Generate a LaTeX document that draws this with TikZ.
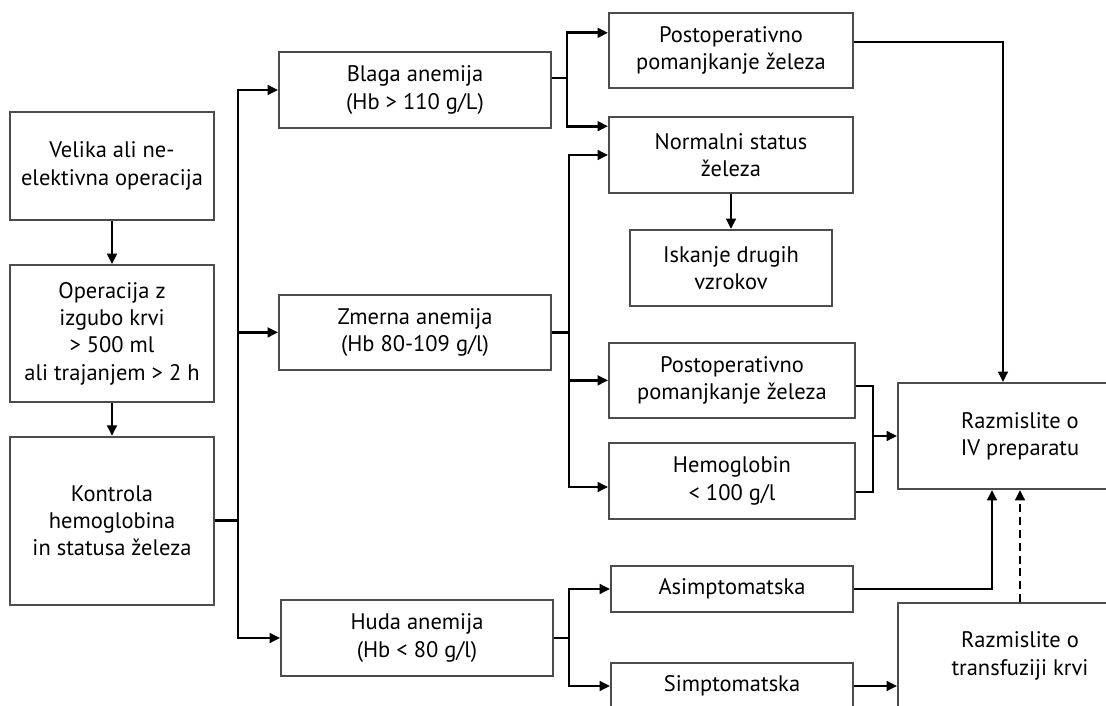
\documentclass[tikz,border=0pt]{standalone}
\usepackage{fontspec}
\setmainfont{PT Sans}
\usepackage{tikz}
\usetikzlibrary{arrows.meta,positioning}

\begin{document}
\begin{tikzpicture}[
  box/.style={draw=black!70, line width=1.4pt, fill=white, inner sep=2pt,
    font=\fontsize{16}{19.5}\selectfont, align=center},
  arr/.style={-{Triangle[length=2.6mm,width=2.4mm]}, line width=2pt},
  link/.style={line width=2pt}
]
\useasboundingbox (0,0) rectangle (27.65,-17.65);
\clip (0,0) rectangle (27.65,-17.65);

% left column
\node[box, minimum width=5.1cm, minimum height=2.7cm] (velika) at (2.8,-4.15)
  {Velika ali ne-\\elektivna operacija};
\node[box, minimum width=5.1cm, minimum height=3.425cm] (operacija) at (2.8,-8.34)
  {Operacija z\\izgubo krvi\\> 500 ml\\ali trajanjem > 2 h};
\node[box, minimum width=5.1cm, minimum height=4.2cm] (kontrola) at (2.8,-13.02)
  {Kontrola\\hemoglobina\\in statusa železa};

% anemia grades
\node[box, minimum width=6.8cm, minimum height=1.9cm] (blaga) at (10.375,-2.25)
  {Blaga anemija\\(Hb > 110 g/L)};
\node[box, minimum width=6.8cm, minimum height=1.875cm] (zmerna) at (10.375,-8.31)
  {Zmerna anemija\\(Hb 80-109 g/l)};
\node[box, minimum width=6.8cm, minimum height=1.9cm] (huda) at (10.425,-15.95)
  {Huda anemija\\(Hb < 80 g/l)};

% outcomes
\node[box, minimum width=6.1cm, minimum height=1.875cm] (postop1) at (18.275,-1.26)
  {Postoperativno\\pomanjkanje železa};
\node[box, minimum width=6.1cm, minimum height=1.9cm] (normal) at (18.275,-3.875)
  {Normalni status\\železa};
\node[box, minimum width=5.05cm, minimum height=1.9cm] (iskanje) at (18.275,-6.7)
  {Iskanje drugih\\vzrokov};
\node[box, minimum width=6.15cm, minimum height=1.875cm] (postop2) at (18.3,-9.51)
  {Postoperativno\\pomanjkanje železa};
\node[box, minimum width=6.15cm, minimum height=1.9cm] (hemo) at (18.3,-12.025)
  {Hemoglobin\\< 100 g/l};
\node[box, minimum width=6.05cm, minimum height=1.15cm] (asimp) at (18.3,-14.725)
  {Asimptomatska};
\node[box, minimum width=6.05cm, minimum height=1.15cm] (simpt) at (18.3,-17.15)
  {Simptomatska};

% treatment
\node[box, minimum width=6.1cm, minimum height=2.65cm] (razmIV) at (25.5,-10.9)
  {Razmislite o\\IV preparatu};
\node[box, minimum width=6.1cm, minimum height=2.65cm] (transf) at (25.5,-16.4)
  {Razmislite o\\transfuziji krvi};

\coordinate (trunk) at (5.95,0 |- kontrola.east);
\coordinate[left=0.6cm of razmIV.west] (merge);

\draw[arr] (velika) -- (operacija);
\draw[arr] (operacija) -- (kontrola);

\draw[arr] (kontrola.east) -- (trunk) |- (blaga.west);
\draw[arr] (trunk) |- (zmerna.west);
\draw[arr] (trunk) |- (huda.west);

\draw[arr] ([yshift=3mm]blaga.east) -- ++(0.375,0) coordinate (b1)
  |- ([yshift=4.4mm]postop1.west);
\draw[arr] (b1) |- ([yshift=7.2mm]normal.west);

\draw[arr] (zmerna.east) -- ++(0.425,0) coordinate (z1) |- (normal.west);
\draw[arr] (z1) |- (postop2.west);
\draw[arr] (z1) |- ([yshift=-1.5mm]hemo.west);
\draw[arr] (normal) -- (iskanje);

\draw[link] ([yshift=-1.4mm]postop2.east) -| (merge);
\draw[link] ([yshift=-2.75mm]hemo.east) -| (merge);
\draw[arr] (merge) -- (razmIV.west);
\draw[arr] ([yshift=2.1mm]postop1.east) -| ([xshift=-4.25mm]razmIV.north);

\draw[arr] (huda.east) -- ++(0.375,0) coordinate (h1) |- (asimp.west);
\draw[arr] (h1) |- (simpt.west);
\draw[arr] (asimp.east) -| ([xshift=-7mm]razmIV.south);
\draw[arr] (simpt.east) -- (simpt.east -| transf.west);
\draw[arr, dash pattern=on 2mm off 1.2mm] (transf.north) -- (razmIV.south);
\end{tikzpicture}
\end{document}
